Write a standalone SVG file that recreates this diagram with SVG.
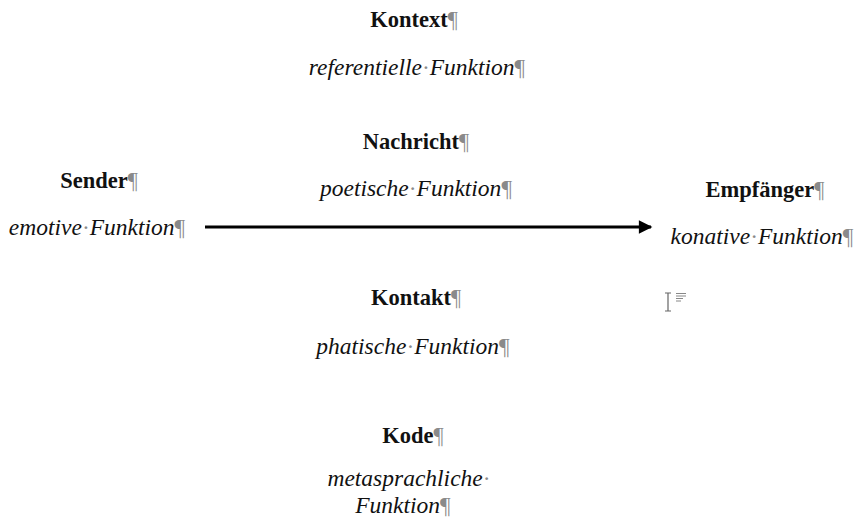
<svg xmlns="http://www.w3.org/2000/svg" width="854" height="519" viewBox="0 0 854 519">
  <defs>
    <style>
      .t { font-family: "Liberation Serif", "Times New Roman", serif; fill: #111; text-anchor: middle; }
      .h { font-weight: bold; font-size: 22.5px; }
      .f { font-style: italic; font-size: 23.5px; }
      .m { fill: #8a8a8a; font-style: normal; font-weight: normal; }
      .conn { stroke: #000; stroke-width: 3; fill: none; }
    </style>
    <marker id="arrow" viewBox="0 0 10 10" refX="9" refY="5" markerWidth="5" markerHeight="4.5" markerUnits="strokeWidth" orient="auto">
      <path d="M0,0 L10,5 L0,10 z" fill="#000"/>
    </marker>
  </defs>
  <rect width="854" height="519" fill="#fff"/>

  <g id="connectors">
    <line class="conn" x1="205" y1="227" x2="651" y2="227" marker-end="url(#arrow)"/>
  </g>

  <g id="kontext">
    <text class="t h" x="414" y="27">Kontext<tspan class="m">¶</tspan></text>
    <text class="t f" x="417" y="75">referentielle<tspan class="m">·</tspan>Funktion<tspan class="m">¶</tspan></text>
  </g>

  <g id="nachricht">
    <text class="t h" x="416" y="149">Nachricht<tspan class="m">¶</tspan></text>
    <text class="t f" x="416" y="196">poetische<tspan class="m">·</tspan>Funktion<tspan class="m">¶</tspan></text>
  </g>

  <g id="sender">
    <text class="t h" x="99" y="188">Sender<tspan class="m">¶</tspan></text>
    <text class="t f" x="97" y="235">emotive<tspan class="m">·</tspan>Funktion<tspan class="m">¶</tspan></text>
  </g>

  <g id="empfaenger">
    <text class="t h" x="765" y="197">Empfänger<tspan class="m">¶</tspan></text>
    <text class="t f" x="762" y="244">konative<tspan class="m">·</tspan>Funktion<tspan class="m">¶</tspan></text>
  </g>

  <g id="kontakt">
    <text class="t h" x="416" y="305">Kontakt<tspan class="m">¶</tspan></text>
    <text class="t f" x="413" y="354">phatische<tspan class="m">·</tspan>Funktion<tspan class="m">¶</tspan></text>
  </g>

  <g id="kode">
    <text class="t h" x="413" y="443">Kode<tspan class="m">¶</tspan></text>
    <text class="t f" x="409" y="486">metasprachliche<tspan class="m">·</tspan></text>
    <text class="t f" x="403" y="513">Funktion<tspan class="m">¶</tspan></text>
  </g>

  <!-- text cursor with alignment glyph -->
  <g id="cursor" stroke="#666" stroke-width="1.2" fill="none">
    <path d="M665,293 H671 M668,293 V311 M665,311 H671"/>
    <path d="M676,293.5 H686 M676,296 H686 M676,298.5 H683 M676,301 H681" stroke="#888" stroke-width="1"/>
  </g>
</svg>
